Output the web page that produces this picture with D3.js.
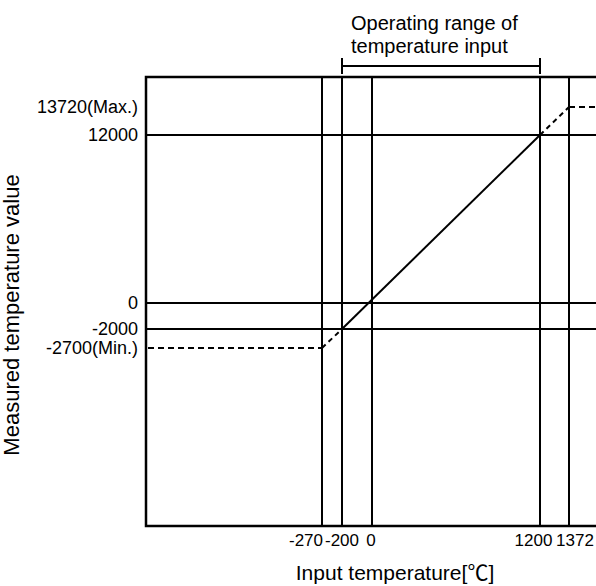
<!DOCTYPE html>
<html>
<head>
<meta charset="utf-8">
<script src="https://cdn.jsdelivr.net/npm/d3@7"></script>
<style>
  html, body { margin: 0; padding: 0; background: #fff; }
  svg { display: block; }
  text { font-family: "Liberation Sans", Arial, Helvetica, sans-serif; fill: #000; }
</style>
</head>
<body>
<svg id="chart" width="596" height="586"></svg>
<script>
// ---- data ----
const xTicks = [-270, -200, 0, 1200, 1372];
const xTickLabels = ["-270", "-200", "0", "1200", "1372"];
const yTicks = [13720, 12000, 0, -2000, -2700];
const yTickLabels = ["13720(Max.)", "12000", "0", "-2000", "-2700(Min.)"];
const gridY = [12000, 0, -2000];
const solidLine = [[-200, -2000], [1200, 12000]];
const dashedLow = [[-270, -2700], [-200, -2000]];
const dashedHigh = [[1200, 12000], [1372, 13720]];
const rangeBracket = [-200, 1200];
const bracketLabel = ["Operating range of", "temperature input"];
const xTitleParts = ["Input temperature[", "℃", "]"];
const yTitle = "Measured temperature value";

// ---- layout ----
const frame = { left: 146, right: 600, top: 77, bottom: 526 };
const svg = d3.select("#chart");

// schematic (piecewise) scales, as in the reference drawing
const x = d3.scaleLinear().domain(xTicks).range([322, 342, 372, 540, 569]);
const y = d3.scaleLinear().domain(yTicks).range([107, 135, 303, 329, 348]);

const g = svg.append("g");
const stroke = "#000";

// vertical lines
g.selectAll("line.v").data(xTicks).enter().append("line")
  .attr("x1", d => x(d)).attr("x2", d => x(d))
  .attr("y1", frame.top).attr("y2", frame.bottom)
  .attr("stroke", stroke).attr("stroke-width", 2);

// horizontal grid lines
g.selectAll("line.h").data(gridY).enter().append("line")
  .attr("x1", frame.left).attr("x2", frame.right)
  .attr("y1", d => y(d)).attr("y2", d => y(d))
  .attr("stroke", stroke).attr("stroke-width", 2);

// frame (top, left, bottom)
g.append("path")
  .attr("d", `M${frame.right},${frame.top}H${frame.left}V${frame.bottom}H${frame.right}`)
  .attr("fill", "none").attr("stroke", stroke).attr("stroke-width", 2.5);

// characteristic lines
const line = d3.line().x(d => x(d[0])).y(d => y(d[1]));
g.append("path").attr("d", line(solidLine))
  .attr("fill", "none").attr("stroke", stroke).attr("stroke-width", 2);
[dashedLow, dashedHigh].forEach(seg => {
  g.append("path").attr("d", line(seg))
    .attr("fill", "none").attr("stroke", stroke).attr("stroke-width", 2)
    .attr("stroke-dasharray", "5,4");
});
// dashed clamp extensions
g.append("line")
  .attr("x1", frame.left + 2).attr("x2", x(dashedLow[0][0]))
  .attr("y1", y(dashedLow[0][1])).attr("y2", y(dashedLow[0][1]))
  .attr("stroke", stroke).attr("stroke-width", 2).attr("stroke-dasharray", "6,4");
g.append("line")
  .attr("x1", x(dashedHigh[1][0])).attr("x2", frame.right)
  .attr("y1", y(dashedHigh[1][1])).attr("y2", y(dashedHigh[1][1]))
  .attr("stroke", stroke).attr("stroke-width", 2).attr("stroke-dasharray", "6,4");

// y tick labels
g.selectAll("text.yt").data(yTicks).enter().append("text")
  .attr("x", frame.left - 8).attr("y", d => y(d))
  .attr("dy", "0.36em").attr("text-anchor", "end")
  .style("font-size", "18px")
  .text((d, i) => yTickLabels[i]);

// x tick labels (nudged apart where crowded, as in the reference)
const labelShift = [-16, 0, -1, -6.5, 6];
g.selectAll("text.xt").data(xTicks).enter().append("text")
  .attr("x", (d, i) => x(d) + labelShift[i]).attr("y", 546)
  .attr("text-anchor", "middle")
  .style("font-size", "17px")
  .text((d, i) => xTickLabels[i]);

// bracket
const by = 66;
g.append("path")
  .attr("d", `M${x(rangeBracket[0])},${by - 8}V${by + 8}M${x(rangeBracket[0])},${by}H${x(rangeBracket[1])}M${x(rangeBracket[1])},${by - 8}V${by + 8}`)
  .attr("fill", "none").attr("stroke", stroke).attr("stroke-width", 2);
g.selectAll("text.br").data(bracketLabel).enter().append("text")
  .attr("x", x(rangeBracket[0]) + 9).attr("y", (d, i) => 30 + i * 23)
  .style("font-size", "20px")
  .text(d => d);

// axis titles
const xt = g.append("text")
  .attr("x", 395).attr("y", 580).attr("text-anchor", "middle")
  .style("font-size", "21px");
xt.append("tspan").text(xTitleParts[0]);
xt.append("tspan").style("font-family", "'Noto Sans CJK JP', 'DejaVu Sans', sans-serif").text(xTitleParts[1]);
xt.append("tspan").text(xTitleParts[2]);

g.append("text")
  .attr("transform", "translate(19,315) rotate(-90)")
  .attr("text-anchor", "middle")
  .style("font-size", "22px").text(yTitle);
</script>
</body>
</html>
